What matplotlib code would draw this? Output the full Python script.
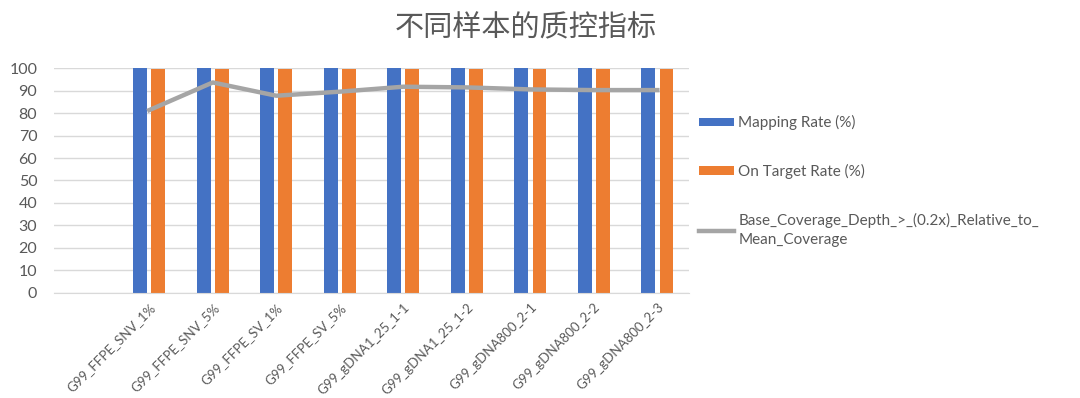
import matplotlib.pyplot as plt
import numpy as np

plt.rcParams['font.family'] = ['Lato', 'Noto Sans CJK SC', 'DejaVu Sans']

# 数据 (第一个类别为空)
samples = ['', 'G99_FFPE_SNV_1%', 'G99_FFPE_SNV_5%', 'G99_FFPE_SV_1%', 'G99_FFPE_SV_5%',
           'G99_gDNA1_25_1-1', 'G99_gDNA1_25_1-2', 'G99_gDNA800_2-1',
           'G99_gDNA800_2-2', 'G99_gDNA800_2-3']
mapping_rate = [np.nan, 100.0, 100.0, 100.0, 100.0, 100.0, 100.0, 100.0, 100.0, 100.0]
on_target_rate = [np.nan, 99.7, 99.7, 99.7, 99.7, 99.7, 99.7, 99.7, 99.7, 99.7]
base_coverage = [np.nan, 81.3, 93.6, 87.7, 89.5, 91.7, 91.4, 90.5, 90.2, 90.2]

BLUE = '#4472C4'
ORANGE = '#ED7D31'
GRAY = '#A5A5A5'
TXT = '#595959'

fig = plt.figure(figsize=(10.8, 3.98), dpi=100)
ax = fig.add_axes([0.05, 0.264, 0.588, 0.565])

x = np.arange(len(samples))
w = 0.22
gap = 0.035
b1 = ax.bar(x - w / 2 - gap, mapping_rate, width=w, color=BLUE, zorder=2)
b2 = ax.bar(x + w / 2 + gap, on_target_rate, width=w, color=ORANGE, zorder=2)
l1, = ax.plot(x, base_coverage, color=GRAY, lw=3.2, zorder=3)

ax.set_xlim(-0.5, len(samples) - 0.5)
ax.set_ylim(0, 100)
ax.set_yticks(range(0, 101, 10))
ax.yaxis.grid(True, color='#D9D9D9', lw=1, zorder=0)
ax.set_axisbelow(True)
for s in ['top', 'right', 'left']:
    ax.spines[s].set_visible(False)
ax.spines['bottom'].set_color('#D9D9D9')
ax.tick_params(axis='both', length=0, colors=TXT)
ax.tick_params(axis='y', labelsize=11.5, pad=12)
ax.set_xticks(x)
ax.set_xticklabels(samples, rotation=45, ha='right', rotation_mode='anchor', fontsize=9.5)
ax.tick_params(axis='x', pad=6)

fig.text(0.487, 0.93, '不同样本的质控指标', ha='center', va='center', fontsize=21,
         color=TXT, family=['Noto Sans CJK SC', 'DejaVu Sans'])

leg = ax.legend([b1, b2, l1],
                ['Mapping Rate (%)', 'On Target Rate (%)',
                 'Base_Coverage_Depth_>_(0.2x)_Relative_to_\nMean_Coverage'],
                loc='upper left', bbox_to_anchor=(1.015, 0.79), frameon=False, fontsize=11,
                labelcolor=TXT, handlelength=2.3, handleheight=0.45, handletextpad=0.3,
                labelspacing=2.2, borderaxespad=0, borderpad=0)
leg.get_texts()[2].set_linespacing(1.5)

fig.savefig('out.png', dpi=100)
